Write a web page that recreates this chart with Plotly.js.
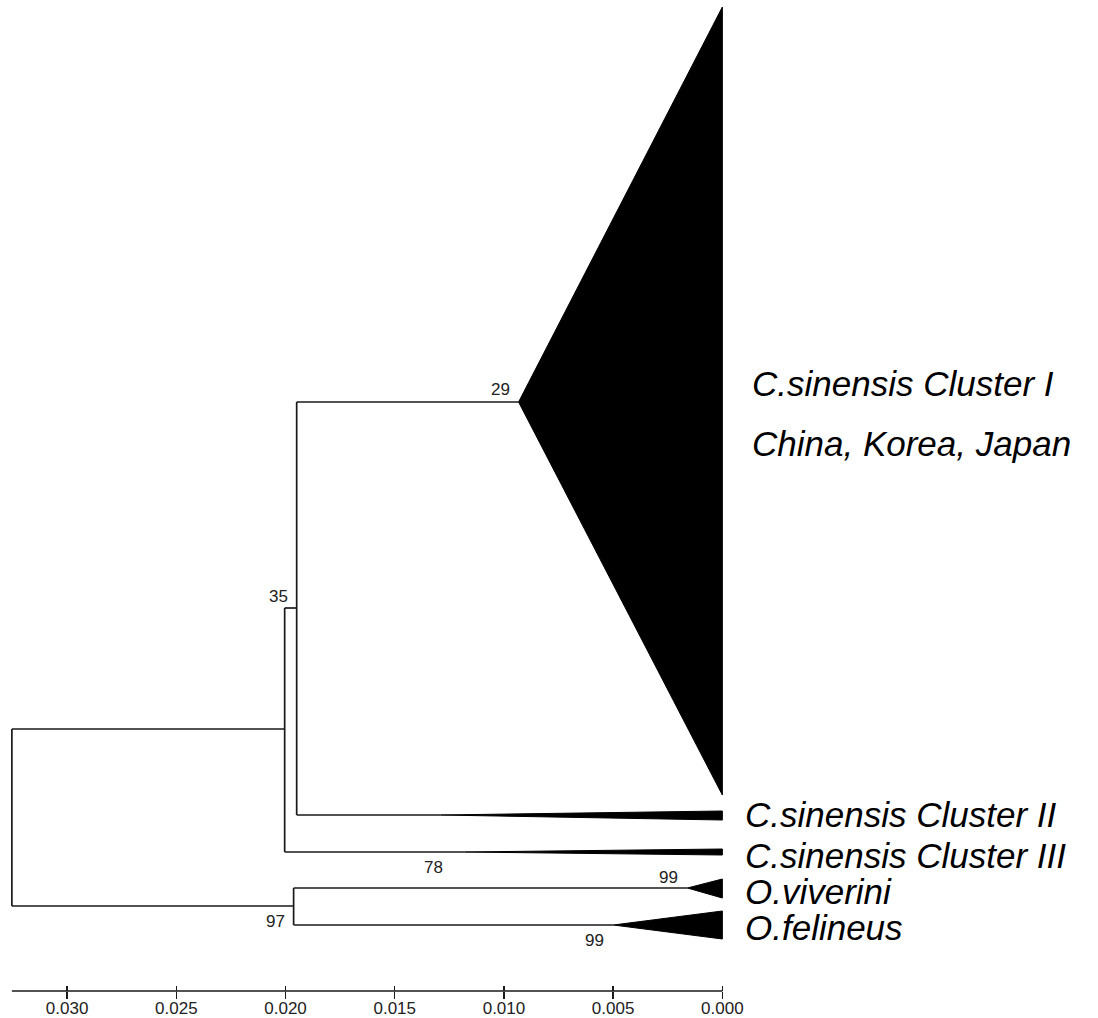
<!DOCTYPE html>
<html>
<head>
<meta charset="utf-8">
<script src="https://cdn.plot.ly/plotly-3.0.1.min.js"></script>
<style>html,body{margin:0;padding:0;background:#fff;}#chart{width:1098px;height:1018px;}</style>
</head>
<body>
<div id="chart"></div>
<script>
// ---- Data (distance scale = substitutions/site, measured back from the tips) ----
// Internal nodes of the tree
const nodeNames  = ['root', 'A', 'B', 'C'];
const nodeX      = [0.03253, 0.02004, 0.01949, 0.01963];
const nodeY      = [818, 729, 608, 906];
const nodeParent = [null, 'root', 'A', 'root'];

// Collapsed clades (triangles)
const cladeNames     = ['C.sinensis Cluster I', 'C.sinensis Cluster II', 'C.sinensis Cluster III', 'O.viverini', 'O.felineus'];
const cladeParent    = ['B', 'B', 'A', 'C', 'C'];
const cladeApexX     = [0.00933, 0.0129, 0.0118, 0.0016, 0.00499];
const cladeY         = [402, 815, 852, 888, 925];
const cladeTipTop    = [7, 811, 849, 879, 911];
const cladeTipBottom = [795, 820, 855, 898, 939];
const cladeTipX      = [0, 0, 0, 0, 0];

// Bootstrap support values
const bootText = ['29', '35', '78', '97', '99', '99'];
const bootX    = [0.01016, 0.02031, 0.01322, 0.02045, 0.00247, 0.00586];
const bootY    = [389, 596, 867, 921, 877, 940];

// Taxon labels
const labelText = ['C.sinensis Cluster I', 'China, Korea, Japan', 'C.sinensis Cluster II', 'C.sinensis Cluster III', 'O.viverini', 'O.felineus'];
const labelX    = [-0.00128, -0.00128, -0.00096, -0.00096, -0.00096, -0.00096];
const labelY    = [383, 443, 814, 855, 891, 927];

// Axis ticks
const tickVals = [0.030, 0.025, 0.020, 0.015, 0.010, 0.005, 0.000];
const tickText = ['0.030', '0.025', '0.020', '0.015', '0.010', '0.005', '0.000'];

// ---- Build tree branches ----
const idx = {};
nodeNames.forEach((n, i) => idx[n] = i);
const bx = [], by = [];
nodeNames.forEach((n, i) => {
  const p = nodeParent[i];
  if (p !== null) {
    bx.push(nodeX[idx[p]], nodeX[i], null);
    by.push(nodeY[i], nodeY[i], null);
  }
});
cladeNames.forEach((n, i) => {
  const p = idx[cladeParent[i]];
  bx.push(nodeX[p], cladeApexX[i], null);
  by.push(cladeY[i], cladeY[i], null);
});
nodeNames.forEach((n, i) => {
  const ys = [];
  nodeNames.forEach((m, j) => { if (nodeParent[j] === n) ys.push(nodeY[j]); });
  cladeNames.forEach((m, j) => { if (cladeParent[j] === n) ys.push(cladeY[j]); });
  if (ys.length) {
    bx.push(nodeX[i], nodeX[i], null);
    by.push(Math.min(...ys), Math.max(...ys), null);
  }
});

const lineColor = '#1a1a1a';
const traces = [{
  x: bx, y: by, type: 'scatter', mode: 'lines',
  line: {color: lineColor, width: 1.7}, hoverinfo: 'skip', showlegend: false
}];
cladeNames.forEach((n, i) => {
  traces.push({
    x: [cladeApexX[i], cladeTipX[i], cladeTipX[i], cladeApexX[i]],
    y: [cladeY[i], cladeTipTop[i], cladeTipBottom[i], cladeY[i]],
    type: 'scatter', mode: 'lines', fill: 'toself',
    fillcolor: '#000', line: {color: '#000', width: 1},
    name: n, hoverinfo: 'name', showlegend: false
  });
});
traces.push({x: [tickVals[0]], y: [0], xaxis: 'x2', yaxis: 'y', mode: 'markers',
  marker: {opacity: 0}, hoverinfo: 'skip', showlegend: false});

const annotations = [];
bootText.forEach((t, i) => annotations.push({
  x: bootX[i], y: bootY[i], xref: 'x', yref: 'y', text: t, showarrow: false,
  xanchor: 'center', yanchor: 'middle',
  font: {family: 'Liberation Sans, Arial, sans-serif', size: 17, color: '#222'}
}));
labelText.forEach((t, i) => annotations.push({
  x: labelX[i], y: labelY[i], xref: 'x', yref: 'y', text: t, showarrow: false,
  xanchor: 'left', yanchor: 'middle',
  font: {family: 'Liberation Sans, Arial, sans-serif', size: 35, color: '#000', style: 'italic'}
}));

const xRange = [0.032845, -0.0172];
const layout = {
  width: 1098, height: 1018,
  margin: {l: 5, r: 0, t: 0, b: 27, pad: 0},
  paper_bgcolor: '#fff', plot_bgcolor: '#fff',
  showlegend: false,
  xaxis: {
    range: xRange, tickvals: tickVals, ticktext: tickText,
    ticks: 'outside', ticklen: 7, tickwidth: 1.5, tickcolor: lineColor,
    ticklabelstandoff: -5,
    showline: false, showgrid: false, zeroline: false, anchor: 'y',
    tickfont: {family: 'Liberation Sans, Arial, sans-serif', size: 17, color: '#222'}
  },
  xaxis2: {
    range: xRange, overlaying: 'x', anchor: 'y', side: 'bottom',
    tickvals: tickVals, ticks: 'inside', ticklen: 5, tickwidth: 1.5, tickcolor: lineColor,
    showticklabels: false, showline: false, showgrid: false, zeroline: false
  },
  yaxis: {
    range: [991, 0], visible: false, showgrid: false, zeroline: false, fixedrange: true
  },
  shapes: [{
    type: 'line', xref: 'x', yref: 'paper',
    x0: nodeX[idx['root']], x1: 0, y0: 0, y1: 0,
    line: {color: lineColor, width: 1.7}
  }],
  annotations: annotations
};

Plotly.newPlot('chart', traces, layout, {displayModeBar: false, staticPlot: true});
</script>
</body>
</html>
